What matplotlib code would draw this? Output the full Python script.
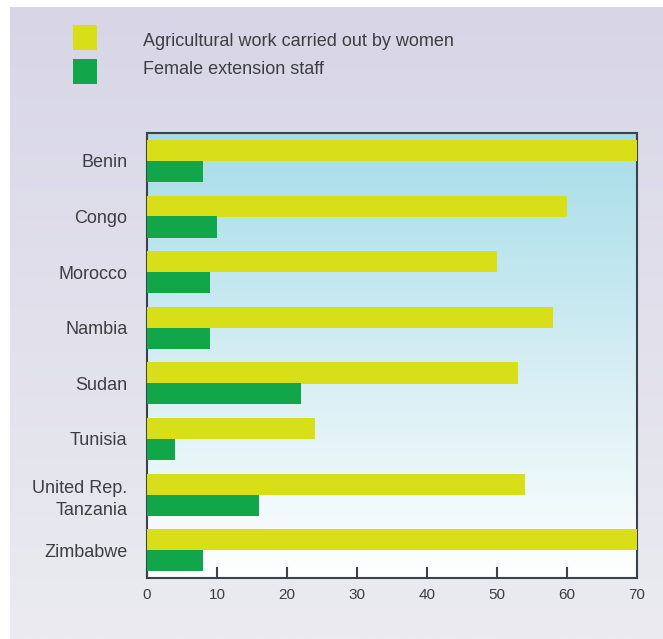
import numpy as np
import matplotlib
matplotlib.use("Agg")
import matplotlib.pyplot as plt
from matplotlib.patches import Rectangle
from matplotlib.colors import LinearSegmentedColormap

countries = ["Benin", "Congo", "Morocco", "Nambia", "Sudan", "Tunisia",
             "United Rep.\nTanzania", "Zimbabwe"]
agri_women = [70, 60, 50, 58, 53, 24, 54, 70]
female_staff = [8, 10, 9, 9, 22, 4, 16, 8]
xticks = [0, 10, 20, 30, 40, 50, 60, 70]
legend_labels = ["Agricultural work carried out by women", "Female extension staff"]

YELLOW = "#d8df18"
GREEN = "#12a64a"
TXT = "#3e3e42"
FONT = ["Liberation Sans", "DejaVu Sans"]
NARROW = ["Liberation Sans Narrow", "Liberation Sans", "DejaVu Sans"]

W, H = 663, 639
fig = plt.figure(figsize=(W / 100, H / 100), dpi=100)
fig.patch.set_facecolor("white")

# background panel with gradient
bg = fig.add_axes([10 / W, 0.0, 1 - 10 / W, 1 - 7 / H])
bg.set_axis_off()
bgcmap = LinearSegmentedColormap.from_list("bg", ["#d8d6e6", "#ebebf1"])
grad = np.linspace(0, 1, 256).reshape(-1, 1)
bg.imshow(grad, aspect="auto", cmap=bgcmap, extent=[0, 1, 0, 1], origin="upper")
bg.set_xlim(0, 1)
bg.set_ylim(0, 1)

# legend squares and text
text_y = [42, 70]
for i, (lab, col) in enumerate(zip(legend_labels, [YELLOW, GREEN])):
    y_top = 25 + i * 34
    fig.patches.append(Rectangle((73 / W, 1 - (y_top + 25) / H), 24 / W, 25 / H,
                                 transform=fig.transFigure, facecolor=col,
                                 edgecolor="none", zorder=5))
    fig.text(143 / W, 1 - text_y[i] / H, lab, fontsize=13, color=TXT,
             va="center", ha="left", zorder=6, family=FONT)

left, right, top, bottom = 147, 637, 133, 578
ax = fig.add_axes([left / W, 1 - bottom / H, (right - left) / W, (bottom - top) / H])

axcmap = LinearSegmentedColormap.from_list("ax", ["#a6dde8", "#d3edf3", "#ffffff"])
ax.imshow(grad, aspect="auto", cmap=axcmap, extent=[0, 70, 7.5, -0.5],
          origin="upper", zorder=0)
ax.set_xlim(0, 70)
ax.set_ylim(7.5, -0.5)

y = np.arange(len(countries))
h = 0.38
ax.barh(y - 0.185, agri_women, height=h, color=YELLOW, zorder=3, clip_on=False)
ax.barh(y + 0.19, female_staff, height=h, color=GREEN, zorder=3, clip_on=False)

for s in ax.spines.values():
    s.set_color("#3a434c")
    s.set_linewidth(1.5)
    s.set_zorder(2.5)

ax.set_yticks(y)
ax.set_yticklabels(countries, fontsize=13, color=TXT, family=FONT, linespacing=1.45)
ax.tick_params(axis="y", length=0, pad=14)
ax.set_xticks(xticks)
ax.set_xticklabels([str(t) for t in xticks], fontsize=11, color=TXT, family=NARROW)
ax.tick_params(axis="x", direction="in", length=8, width=1.5, color="#3a434c", pad=7)

fig.savefig("out.png", dpi=100, facecolor=fig.get_facecolor())
